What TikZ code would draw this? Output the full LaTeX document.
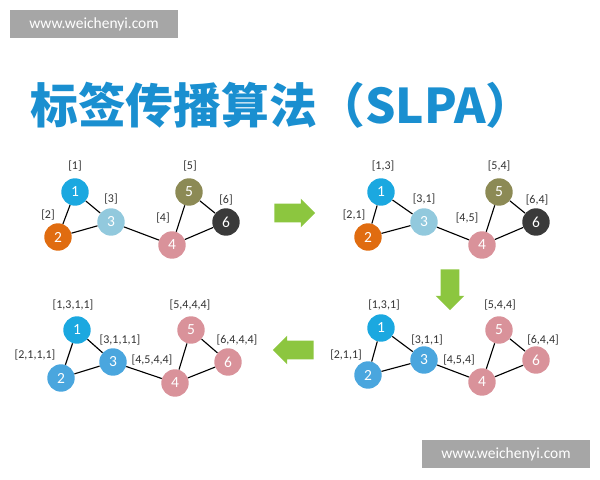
\documentclass[tikz,border=0pt]{standalone}
\usepackage{fontspec}
\setmainfont{Carlito}
\newfontfamily\cjk{Noto Sans CJK SC}
\usepackage{tikz}
\usetikzlibrary{arrows.meta,positioning,shapes.arrows}
\definecolor{cyanb}{HTML}{1BA8E0}
\definecolor{orng}{HTML}{E06C10}
\definecolor{lblue}{HTML}{92C9DD}
\definecolor{pink}{HTML}{D9929A}
\definecolor{olive}{HTML}{8C8A55}
\definecolor{dark}{HTML}{3A3A3A}
\definecolor{midb}{HTML}{4AA6DE}
\definecolor{grn}{HTML}{8CC63F}
\definecolor{ttl}{HTML}{1A8FD0}
\tikzset{
  vert/.style={circle, minimum size=19.5pt, inner sep=0pt, text=white, font=\fontsize{11}{11}\selectfont},
  lab/.style={font=\fontsize{8.5}{8.5}\selectfont, text=black!80},
  edge/.style={thick, black},
  bigarrow/.style={single arrow, fill=grn, draw=none, minimum height=29pt, single arrow head extend=3.5pt, single arrow head indent=0pt, inner sep=6.5pt},
  wmark/.style={fill=gray!70, text=white, minimum width=119pt, minimum height=20pt, font=\fontsize{11}{11}\selectfont}
}
\begin{document}
\begin{tikzpicture}[x=0.025cm, y=-0.025cm]
\useasboundingbox (0,0) rectangle (600,480);
\node (mark1) [wmark] at (94,24) {www.weichenyi.com};
\node (mark2) [wmark] at (506,454) {www.weichenyi.com};
\node (title) [text=ttl, font=\cjk\bfseries\fontsize{34}{34}\selectfont] at (282,105) {标签传播算法（SLPA）};

% step 1
\node (a1) [vert, fill=cyanb] at (75,192) {1};
\node (a2) [vert, fill=orng] at (58,237) {2};
\node (a3) [vert, fill=lblue] at (111,222) {3};
\node (a4) [vert, fill=pink] at (172,245) {4};
\node (a5) [vert, fill=olive] at (189,192) {5};
\node (a6) [vert, fill=dark] at (226,222) {6};
\node [lab] at (75,166) {[1]};
\node [lab] at (48,215) {[2]};
\node [lab] at (111,199) {[3]};
\node [lab] at (163,218) {[4]};
\node [lab] at (190,166) {[5]};
\node [lab] at (226,200) {[6]};

% step 2
\node (b1) [vert, fill=cyanb] at (381,192) {1};
\node (b2) [vert, fill=orng] at (368,237) {2};
\node (b3) [vert, fill=lblue] at (424,222) {3};
\node (b4) [vert, fill=pink] at (482,245) {4};
\node (b5) [vert, fill=olive] at (499,192) {5};
\node (b6) [vert, fill=dark] at (536,222) {6};
\node [lab] at (383,166) {[1,3]};
\node [lab] at (354,215) {[2,1]};
\node [lab] at (424,199) {[3,1]};
\node [lab] at (467,218) {[4,5]};
\node [lab] at (499,166) {[5,4]};
\node [lab] at (537,200) {[6,4]};

% step 3
\node (c1) [vert, fill=cyanb] at (381,328) {1};
\node (c2) [vert, fill=midb] at (368,375) {2};
\node (c3) [vert, fill=midb] at (424,360) {3};
\node (c4) [vert, fill=pink] at (482,382) {4};
\node (c5) [vert, fill=pink] at (499,330) {5};
\node (c6) [vert, fill=pink] at (536,360) {6};
\node [lab] at (384,305) {[1,3,1]};
\node [lab] at (346,355) {[2,1,1]};
\node [lab] at (427,340) {[3,1,1]};
\node [lab] at (459,360) {[4,5,4]};
\node [lab] at (500,305) {[5,4,4]};
\node [lab] at (543,340) {[6,4,4]};

% step 4
\node (d1) [vert, fill=cyanb] at (77,330) {1};
\node (d2) [vert, fill=midb] at (61,378) {2};
\node (d3) [vert, fill=midb] at (113,362) {3};
\node (d4) [vert, fill=pink] at (175,383) {4};
\node (d5) [vert, fill=pink] at (191,330) {5};
\node (d6) [vert, fill=pink] at (228,362) {6};
\node [lab] at (73,305) {[1,3,1,1]};
\node [lab] at (35,355) {[2,1,1,1]};
\node [lab] at (120,340) {[3,1,1,1]};
\node [lab] at (152,360) {[4,5,4,4]};
\node [lab] at (190,305) {[5,4,4,4]};
\node [lab] at (237,340) {[6,4,4,4]};

\foreach \g in {a,b,c,d} {
  \draw [edge] (\g1) -- (\g2);
  \draw [edge] (\g1) -- (\g3);
  \draw [edge] (\g2) -- (\g3);
  \draw [edge] (\g3) -- (\g4);
  \draw [edge] (\g4) -- (\g5);
  \draw [edge] (\g5) -- (\g6);
  \draw [edge] (\g4) -- (\g6);
}

\node (go1) [bigarrow] at (290,213) {};
\node (go2) [bigarrow, shape border rotate=270] at (450,285) {};
\node (go3) [bigarrow, shape border rotate=180] at (298,350) {};
\end{tikzpicture}
\end{document}
